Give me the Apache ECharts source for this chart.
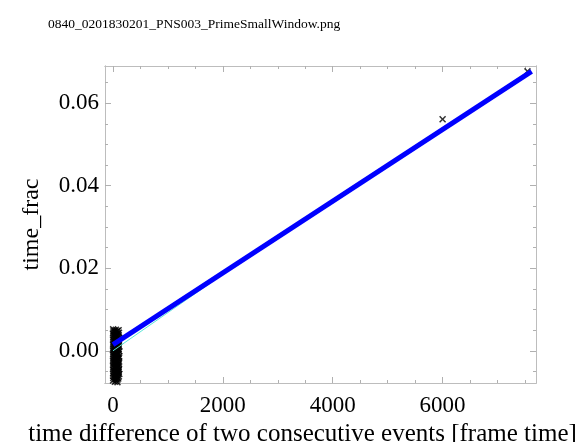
<!DOCTYPE html>
<html>
<head>
<meta charset="utf-8">
<script src="https://cdn.jsdelivr.net/npm/echarts@6/dist/echarts.min.js"></script>
<style>
  html, body { margin: 0; padding: 0; background: #fff; }
  #chart-container { width: 586px; height: 442px; }
</style>
</head>
<body>
<div id="chart-container"></div>
<script>
// tick positions
const xMajor = [0, 2000, 4000, 6000];
const xMinor = [500, 1000, 1500, 2500, 3000, 3500, 4500, 5000, 5500, 6500, 7000, 7500];
const yMajor = [0, 0.02, 0.04, 0.06];
const yMinor = [-0.005, 0.005, 0.01, 0.015, 0.025, 0.03, 0.035, 0.045, 0.05, 0.055, 0.065];

// the dense cluster of events at small time differences (read column by column)
const clusterX = [
    3, 7, 1, 9, 5, 2, 8, 4, 10, 6, 0, 7, 3, 9, 5, 1, 8, 4, 6, 2, 10, 3, 7, 5, 1,
    28, 35, 24, 39, 31, 26, 37, 29, 33, 25, 38, 30, 27, 36, 32, 24, 34, 29, 39, 26, 31, 37, 28, 33, 35,
    52, 58, 49, 63, 55, 61, 50, 57, 64, 53, 59, 48, 62, 54, 60, 51, 65, 56, 49, 63, 58, 52, 61, 55, 57,
    78, 84, 73, 89, 80, 75, 87, 82, 76, 90, 79, 85, 74, 88, 81, 77, 86, 83, 72, 80, 88, 75, 84, 79, 82,
    103, 110, 98, 114, 106, 100, 112, 104, 117, 101, 108, 96, 113, 105, 99, 111, 102, 115, 107, 97, 109, 104, 112, 100, 106
];
const clusterY = [
    0.0052, 0.0047, 0.0042, 0.0037, 0.0032, 0.0026, 0.0021, 0.0016, 0.0011, 0.0006, 0.0001, -0.0004, -0.0009,
    -0.0014, -0.0019, -0.0025, -0.0030, -0.0035, -0.0040, -0.0045, -0.0050, -0.0055, -0.0061, -0.0066, -0.0072,
    0.0049, 0.0044, 0.0039, 0.0034, 0.0029, 0.0024, 0.0018, 0.0013, 0.0008, 0.0003, -0.0002, -0.0007, -0.0012,
    -0.0017, -0.0022, -0.0027, -0.0032, -0.0038, -0.0043, -0.0048, -0.0053, -0.0058, -0.0063, -0.0069, -0.0075,
    0.0051, 0.0046, 0.0041, 0.0035, 0.0030, 0.0025, 0.0020, 0.0015, 0.0009, 0.0004, -0.0001, -0.0006, -0.0011,
    -0.0016, -0.0021, -0.0027, -0.0032, -0.0037, -0.0042, -0.0047, -0.0052, -0.0057, -0.0063, -0.0068, -0.0073,
    0.0048, 0.0043, 0.0038, 0.0033, 0.0028, 0.0022, 0.0017, 0.0012, 0.0007, 0.0002, -0.0003, -0.0008, -0.0013,
    -0.0018, -0.0024, -0.0029, -0.0034, -0.0039, -0.0044, -0.0049, -0.0054, -0.0060, -0.0065, -0.0070, -0.0076,
    0.0050, 0.0044, 0.0036, 0.0031, 0.0023, 0.0019, 0.0010, 0.0005, -0.0001, -0.0008, -0.0013, -0.0020, -0.0026,
    -0.0031, -0.0039, -0.0044, -0.0051, -0.0056, -0.0062, -0.0067, 0.0027, 0.0014, -0.0017, -0.0035, -0.0047
];
// the two long-gap events
const outlierX = [6000, 7545];
const outlierY = [0.0561, 0.0677];

// fitted line (blue, thick) and the thin cyan line that runs under it
const fitX = [0, 7620];
const fitY = [0.0015, 0.0677];
const refX = [0, 2700];
const refY = [0.0, 0.0250];

const FONT = '"Liberation Serif", "DejaVu Serif", serif';
const CROSS = 'path://M0,1.5L1.5,0L5,3.5L8.5,0L10,1.5L6.5,5L10,8.5L8.5,10L5,6.5L1.5,10L0,8.5L3.5,5Z';

function pairs(xs, ys) {
    return xs.map(function (x, i) { return [x, ys[i]]; });
}

const chart = echarts.init(document.getElementById('chart-container'), null, { renderer: 'canvas' });

function tickAxis(pos, values, len, extra) {
    return Object.assign({
        type: 'value',
        position: pos,
        axisLine: { show: true, onZero: false, lineStyle: { color: '#bdbdbd', width: 1 } },
        axisTick: { show: true, inside: true, length: len, customValues: values, lineStyle: { color: '#b0b0b0' } },
        axisLabel: { show: false },
        splitLine: { show: false }
    }, extra);
}

const xRange = { min: -145, max: 7700 };
const yRange = { min: -0.0078, max: 0.069 };

const option = {
    animation: false,
    backgroundColor: '#fff',
    title: {
        text: '0840_0201830201_PNS003_PrimeSmallWindow.png',
        left: 43,
        top: 12,
        textStyle: { fontFamily: FONT, fontSize: 13.5, fontWeight: 'normal', color: '#000' }
    },
    grid: { left: 105, right: 50, top: 66, bottom: 59, outerBoundsMode: 'none', containLabel: false },
    xAxis: [
        tickAxis('bottom', xMajor, 6, Object.assign({
            name: 'time difference of two consecutive events [frame time]',
            nameLocation: 'middle',
            nameGap: 33,
            nameTextStyle: { fontFamily: FONT, fontSize: 25, color: '#000', padding: [0, 36, 0, 0] },
            axisLabel: {
                show: true, customValues: xMajor, margin: 11,
                fontFamily: FONT, fontSize: 23, color: '#000',
                formatter: function (v) { return String(v); }
            }
        }, xRange)),
        tickAxis('bottom', xMinor, 3, xRange),
        tickAxis('top', xMajor, 6, xRange),
        tickAxis('top', xMinor, 3, xRange)
    ],
    yAxis: [
        tickAxis('left', yMajor, 6, Object.assign({
            name: 'time_frac',
            nameLocation: 'middle',
            nameGap: 61,
            nameTextStyle: { fontFamily: FONT, fontSize: 24, color: '#000' },
            axisLabel: {
                show: true, customValues: yMajor, margin: 6,
                fontFamily: FONT, fontSize: 23, color: '#000',
                formatter: function (v) { return v.toFixed(2); }
            }
        }, yRange)),
        tickAxis('left', yMinor, 3, yRange),
        tickAxis('right', yMajor, 6, yRange),
        tickAxis('right', yMinor, 3, yRange)
    ],
    series: [
        {
            type: 'scatter',
            xAxisIndex: 0, yAxisIndex: 0,
            symbol: CROSS,
            symbolSize: 7,
            itemStyle: { color: '#000' },
            clip: true,
            data: pairs(clusterX, clusterY).concat(pairs(outlierX, outlierY)),
            z: 2
        },
        {
            type: 'line',
            xAxisIndex: 0, yAxisIndex: 0,
            showSymbol: false,
            lineStyle: { color: '#5ce6d6', width: 1 },
            data: pairs(refX, refY),
            z: 3
        },
        {
            type: 'line',
            xAxisIndex: 0, yAxisIndex: 0,
            showSymbol: false,
            lineStyle: { color: '#0000ff', width: 5 },
            data: pairs(fitX, fitY),
            z: 4
        }
    ]
};

chart.setOption(option);
</script>
</body>
</html>
